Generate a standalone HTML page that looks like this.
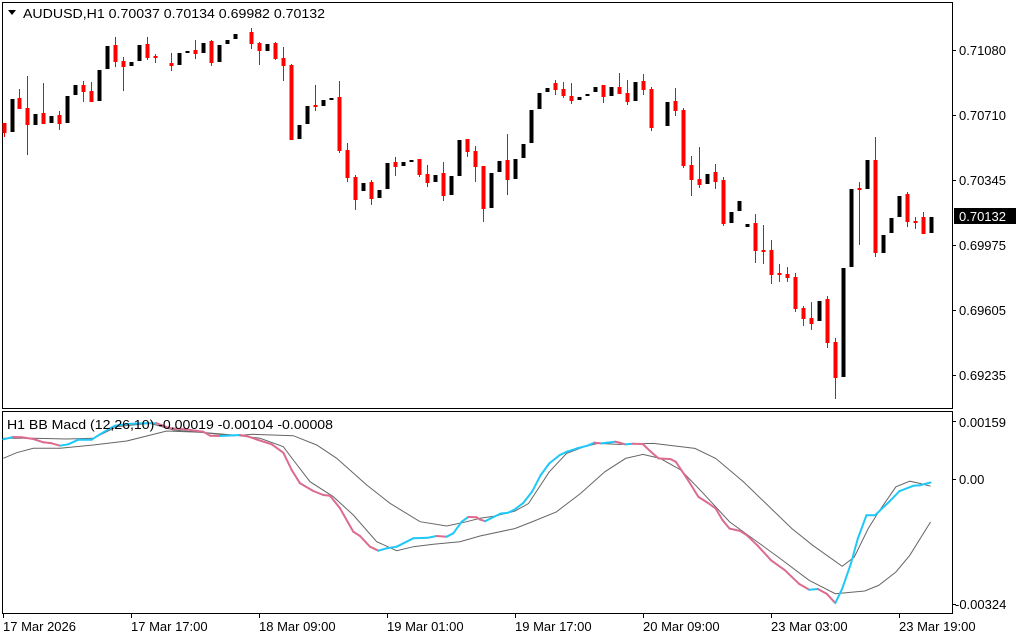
<!DOCTYPE html>
<html><head><meta charset="utf-8"><style>
html,body{margin:0;padding:0;background:#fff;}
svg{display:block;}
text{font-family:"Liberation Sans","DejaVu Sans",sans-serif;font-size:13px;fill:#000;}
</style></head><body>
<svg id="s" width="1024" height="640" viewBox="0 0 1024 640" xmlns="http://www.w3.org/2000/svg">
<rect x="0" y="0" width="1024" height="640" fill="#fff"/>
<rect x="2.5" y="2.5" width="950" height="406" fill="none" stroke="#000" stroke-width="1"/>
<rect x="2.5" y="411.5" width="950" height="202" fill="none" stroke="#000" stroke-width="1"/>
<g id="candles"></g>
<g id="macd"></g>
<polygon points="8,10 16,10 12,15" fill="#000"/>
<text x="23" y="18" textLength="302" lengthAdjust="spacingAndGlyphs">AUDUSD,H1  0.70037 0.70134 0.69982 0.70132</text>
<text x="7" y="429" textLength="326" lengthAdjust="spacingAndGlyphs">H1 BB Macd (12,26,10) -0.00019 -0.00104 -0.00008</text>
<g stroke="#000" stroke-width="1">
<line x1="952" y1="50.5" x2="956" y2="50.5"/><line x1="952" y1="115.5" x2="956" y2="115.5"/>
<line x1="952" y1="180.5" x2="956" y2="180.5"/><line x1="952" y1="245.5" x2="956" y2="245.5"/>
<line x1="952" y1="310.5" x2="956" y2="310.5"/><line x1="952" y1="375.5" x2="956" y2="375.5"/>
<line x1="952" y1="421.5" x2="956" y2="421.5"/><line x1="952" y1="479.5" x2="956" y2="479.5"/>
<line x1="952" y1="604.5" x2="956" y2="604.5"/>
<line x1="3.5" y1="613" x2="3.5" y2="618"/><line x1="131.5" y1="613" x2="131.5" y2="618"/>
<line x1="259.5" y1="613" x2="259.5" y2="618"/><line x1="387.5" y1="613" x2="387.5" y2="618"/>
<line x1="515.5" y1="613" x2="515.5" y2="618"/><line x1="643.5" y1="613" x2="643.5" y2="618"/>
<line x1="771.5" y1="613" x2="771.5" y2="618"/><line x1="899.5" y1="613" x2="899.5" y2="618"/>
</g>
<text x="959" y="55">0.71080</text>
<text x="959" y="120">0.70710</text>
<text x="959" y="185">0.70345</text>
<text x="959" y="250">0.69975</text>
<text x="959" y="315">0.69605</text>
<text x="959" y="380">0.69235</text>
<rect x="954" y="208" width="62" height="16" fill="#000"/>
<text x="959" y="221" style="fill:#fff">0.70132</text>
<text x="959" y="427">0.00159</text>
<text x="959" y="484">0.00</text>
<text x="955" y="609">-0.00324</text>
<text x="3" y="631">17 Mar 2026</text>
<text x="131" y="631">17 Mar 17:00</text>
<text x="259" y="631">18 Mar 09:00</text>
<text x="387" y="631">19 Mar 01:00</text>
<text x="515" y="631">19 Mar 17:00</text>
<text x="643" y="631">20 Mar 09:00</text>
<text x="771" y="631">23 Mar 03:00</text>
<text x="899" y="631">23 Mar 19:00</text>
</svg>
<script>
var C=[
[4,1,123,133,123,137],[12,0,99,132],[19,1,98,109,89,109],[27,1,108,125,76,155],[35,0,114,125],[43,1,113,124,83,124],
[51,0,116,123],[59,1,115,124,111,130],[67,0,96,123],[75,0,85,95],[83,1,85,92,81,102],[91,1,91,102,82,102],
[99,0,70,101],[107,0,46,69],[115,1,45,62,37,67],[123,1,61,67,57,91],[131,0,62,66],[139,0,45,61],[147,1,44,58,37,60],
[155,1,56,58,54,63],[171,1,63,66,53,71],[179,0,53,65],[187,0,51,52],[195,1,50,54,40,59],[203,0,43,53],[211,1,41,63,40,66],
[219,0,45,62],[227,0,40,44],[235,0,34,39],[251,1,32,44,28,49],[259,1,43,51,42,65],[267,0,44,51],[275,1,43,59,42,60],
[283,1,58,66,47,81],[291,1,65,140,64,140],[299,0,125,139],[307,0,106,124],[315,1,105,107,85,111],[323,0,100,106],[331,0,98,99],
[339,1,97,151,81,153],[347,1,150,178,143,182],[355,1,177,200,175,210],[363,0,183,191],[371,1,182,199,180,205],[379,0,190,198],
[387,0,163,189],[395,1,162,167,157,176],[403,0,162,166],[411,0,160,161],[419,1,159,175,159,177],[427,1,174,183,165,187],
[435,0,175,182],[443,1,173,196,162,201],[451,0,176,195],[459,0,140,176],[467,1,139,152,139,157],[475,1,151,167,146,182],
[483,1,166,209,166,222],[491,0,173,208],[499,0,161,172],[507,1,160,180,134,195],[515,0,159,179],[523,0,144,158],
[531,0,110,143],[539,0,93,109],[547,0,88,92],[555,1,83,90,80,95],[563,1,89,96,82,98],[571,1,96,101,83,104],[579,0,97,100],
[587,0,94,96],[595,0,87,92],[603,1,85,97,85,103],[611,0,87,96],[619,1,87,94,73,94],[627,1,93,102,80,105],[635,0,82,101],
[643,1,81,90,74,95],[651,1,89,128,87,131],[667,0,102,126],[675,1,101,111,88,116],[683,1,110,166,108,168],[691,1,165,180,156,196],
[699,1,179,185,147,188],[707,0,174,184],[715,1,172,182,164,189],[723,1,180,224,177,226],[731,0,212,223],[739,0,201,211],
[747,0,224,227],[755,1,223,251,214,263],[763,1,250,252,225,264],[771,1,250,275,240,284],[779,1,273,275,264,282],
[787,1,274,278,267,282],[795,1,277,309,273,312],[803,1,308,319,306,326],[811,1,318,324,302,330],[819,0,301,321],
[827,1,299,343,296,348],[835,1,342,378,338,399],[843,0,268,377],[851,0,189,267],[859,1,188,190,182,245],[867,0,160,189],
[875,1,160,253,137,257],[883,0,235,253],[891,0,218,233],[899,0,196,217],[907,1,194,222,192,227],[915,1,221,223,217,229],
[923,1,217,234,212,234],[931,0,217,233]];
var h='';
C.forEach(function(c){var x=c[0],col=c[1]?'#f00':'#000';
if(c.length>4){h+='<line x1="'+(x+.5)+'" y1="'+c[4]+'" x2="'+(x+.5)+'" y2="'+c[5]+'" stroke="'+col+'" stroke-width="1"/>';}
var hh=Math.max(c[3]-c[2],2);h+='<rect x="'+(x-1.5)+'" y="'+c[2]+'" width="4" height="'+hh+'" fill="'+col+'"/>';});
document.getElementById('candles').innerHTML=h;
function m7(a){var r=[];for(var i=0;i<a.length;i+=2)r.push([a[i]/3,405+a[i+1]/3]);return r;}
function m8(a){var r=[];for(var i=0;i<a.length;i+=2)r.push([480+a[i]*0.3466,405+a[i+1]*0.334]);return r;}
var M=m7([10,103,40,96,65,97,100,102,130,112,155,115,180,122,205,118,235,104,275,104,300,88,330,70,345,62,380,57,430,55,470,55,510,70,555,73,610,80,630,92,660,93,720,90,740,93,775,105,815,118,850,143,875,195,900,235,940,258,970,270,990,272,1020,310,1060,380,1080,393,1110,425,1135,437,1160,430,1190,425,1240,400,1285,398,1310,393,1340,395,1360,385,1385,350,1405,336,1430,337])
.concat(m8([0,343,15,348,40,335,60,325,80,323,100,313,125,293,150,260,175,210,200,175,230,150,250,140,280,130,310,122,330,113,350,115,390,110,400,112,420,118,440,116,470,117,490,137,515,160,550,162,565,170,600,225,630,275,660,295,680,310,700,345,720,370,750,377,770,390,800,420,840,465,880,495,920,535,950,553,975,551,1000,565,1025,593,1045,550,1070,475,1090,400,1115,330,1140,330,1180,290,1210,258,1250,242,1270,240,1300,232]));
var A=m7([10,160,50,143,100,130,180,130,280,120,380,108,500,78,600,82,700,92,760,88,880,92,950,120,1010,160,1100,240,1170,295,1260,350,1340,363,1400,350,1440,340])
.concat(m8([40,333,100,318,140,295,200,200,250,145,300,125,340,115,400,118,500,115,620,130,680,160,760,230,840,310,900,370,960,420,1045,483,1080,455,1120,370,1150,320,1200,245,1240,228,1270,235,1300,243]));
var B=m7([10,100,100,100,200,102,280,100,320,80,350,65,450,55,520,75,600,82,700,90,780,100,850,125,880,165,930,230,1000,275,1060,330,1130,410,1190,437,1240,425,1300,418,1380,410,1440,393])
.concat(m8([100,370,150,350,220,320,290,265,360,200,420,160,470,148,520,160,580,195,640,260,720,350,800,410,860,455,950,525,1025,565,1110,557,1150,540,1200,500,1240,450,1300,350]));
function pl(p,st,w){return '<polyline fill="none" stroke="'+st+'" stroke-width="'+w+'" points="'+p.map(function(q){return q[0].toFixed(1)+','+q[1].toFixed(1)}).join(' ')+'"/>';}
var g=pl(A,'#666',1)+pl(B,'#666',1);
var col='#1ec8f8';
for(var i=1;i<M.length;i++){var dy=M[i][1]-M[i-1][1];if(dy<0)col='#1ec8f8';else if(dy>0)col='#dc6b8e';
g+='<line x1="'+M[i-1][0].toFixed(1)+'" y1="'+M[i-1][1].toFixed(1)+'" x2="'+M[i][0].toFixed(1)+'" y2="'+M[i][1].toFixed(1)+'" stroke="'+col+'" stroke-width="2" stroke-linecap="round"/>';}
document.getElementById('macd').innerHTML=g;
</script>
</body></html>
